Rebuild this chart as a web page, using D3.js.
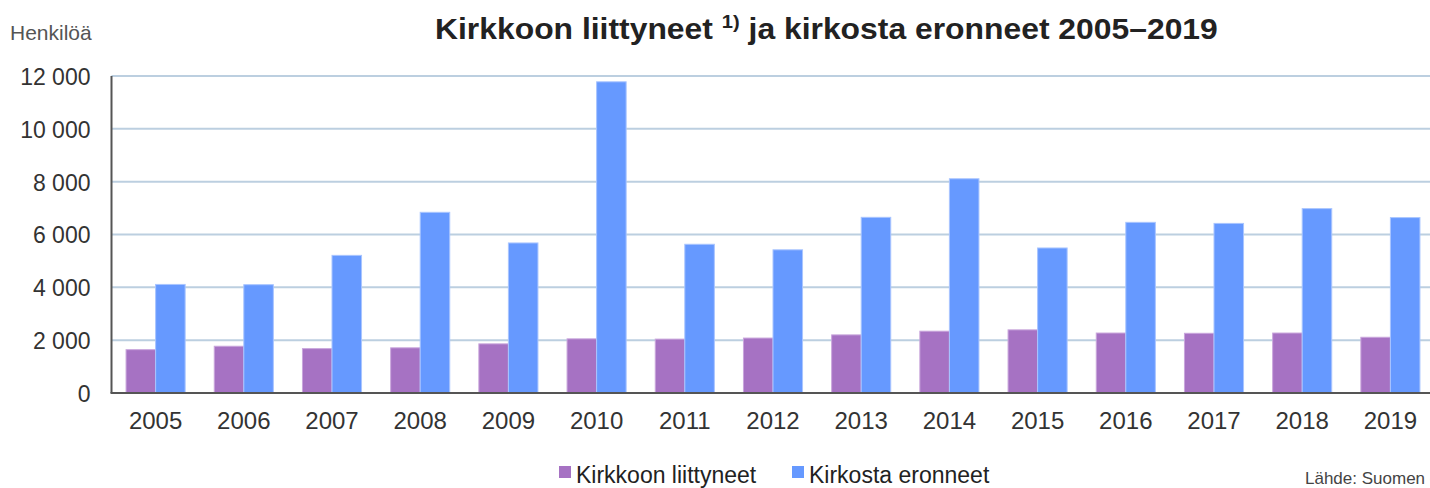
<!DOCTYPE html>
<html>
  <head>
    <meta charset="utf-8">
    <title>Kirkkoon liittyneet ja kirkosta eronneet</title>
    <style>
      body { margin: 0; background: #fff; }
      svg { display: block; font-family: "Liberation Sans", Arial, sans-serif; }
    </style>
  </head>
  <body>
    <svg width="1430" height="488"></svg>
    <script src="https://cdn.jsdelivr.net/npm/d3@7"></script>
    <script>
      // data
      var years = ["2005","2006","2007","2008","2009","2010","2011","2012","2013","2014","2015","2016","2017","2018","2019"];
      var liittyneet = [1640, 1770, 1680, 1710, 1860, 2050, 2040, 2080, 2200, 2340, 2390, 2270, 2260, 2270, 2110];
      var eronneet = [4110, 4100, 5210, 6840, 5680, 11780, 5630, 5420, 6650, 8110, 5490, 6460, 6420, 6980, 6640];
      var seriesNames = ["Kirkkoon liittyneet", "Kirkosta eronneet"];
      var seriesColors = ["#a672c3", "#6699ff"];
      var yTicks = [0, 2000, 4000, 6000, 8000, 10000, 12000];

      var svg = d3.select("svg");
      var pLeft = 111.5, pRight = 1434.5, pTop = 76, pBottom = 393;

      var x = d3.scaleBand()
        .domain(years)
        .range([pLeft, pRight])
        .paddingInner(0.33)
        .paddingOuter(0.165);
      var xs = d3.scaleBand()
        .domain([0, 1])
        .range([0, x.bandwidth()]);
      var y = d3.scaleLinear()
        .domain([0, 12000])
        .range([pBottom, pTop]);

      var fmt = function(d){ return d3.format(",")(d).replace(/,/g, " "); };

      // gridlines
      svg.append("g")
        .selectAll("line")
        .data(yTicks.filter(function(d){ return d > 0; }))
        .enter()
        .append("line")
        .attr("x1", pLeft).attr("x2", pRight)
        .attr("y1", function(d){ return y(d); })
        .attr("y2", function(d){ return y(d); })
        .attr("stroke", "#bccfe0")
        .attr("stroke-width", 2);

      // y axis labels
      var yAxis = svg.append("g")
        .attr("transform", "translate(" + (pLeft - 21) + ",1)")
        .call(d3.axisLeft(y).tickValues(yTicks).tickFormat(fmt).tickSize(0).tickPadding(0));
      yAxis.select(".domain").remove();
      yAxis.selectAll("text")
        .attr("fill", "#333")
        .attr("font-size", 23)
        .attr("font-family", "Liberation Sans, Arial, sans-serif");

      // bars
      var data = [liittyneet, eronneet];
      var groups = svg.append("g")
        .selectAll("g")
        .data(years)
        .enter()
        .append("g")
        .attr("transform", function(d){ return "translate(" + x(d) + ",0)"; });

      groups.selectAll("rect")
        .data(function(d, i){ return [0, 1].map(function(s){ return {s: s, v: data[s][i]}; }); })
        .enter()
        .append("rect")
        .attr("x", function(d){ return xs(d.s); })
        .attr("width", xs.bandwidth())
        .attr("y", function(d){ return y(d.v); })
        .attr("height", function(d){ return pBottom - y(d.v); })
        .attr("fill", function(d){ return seriesColors[d.s]; })
        .attr("stroke", function(d){ return d.s ? "#a9c5ff" : "#c9a6dc"; })
        .attr("stroke-width", 1);

      // axis lines
      svg.append("line")
        .attr("x1", pLeft).attr("x2", pLeft)
        .attr("y1", pTop).attr("y2", pBottom)
        .attr("stroke", "#555").attr("stroke-width", 2);
      svg.append("line")
        .attr("x1", pLeft - 1).attr("x2", pRight)
        .attr("y1", pBottom).attr("y2", pBottom)
        .attr("stroke", "#555").attr("stroke-width", 2);

      // x labels
      var xAxis = svg.append("g")
        .attr("transform", "translate(0," + (pBottom + 19) + ")")
        .call(d3.axisBottom(x).tickSize(0).tickPadding(0));
      xAxis.select(".domain").remove();
      xAxis.selectAll("text")
        .attr("fill", "#333")
        .attr("font-size", 24)
        .attr("font-family", "Liberation Sans, Arial, sans-serif");

      // title
      var titleG = svg.append("g");
      var title = titleG.append("text")
        .attr("x", 0).attr("y", 0)
        .attr("font-size", 30)
        .attr("font-weight", "bold")
        .attr("fill", "#222");
      title.append("tspan").text("Kirkkoon liittyneet ");
      title.append("tspan").attr("font-size", 19).attr("dy", -11).text("1)");
      title.append("tspan").attr("dy", 11).text(" ja kirkosta eronneet 2005–2019");
      var tw = title.node().getComputedTextLength();
      var sx = 783 / tw;
      titleG.attr("transform", "translate(435,39) scale(" + sx + ",1)");

      svg.append("text")
        .attr("x", 10).attr("y", 40)
        .attr("font-size", 21)
        .attr("fill", "#555")
        .text("Henkilöä");

      // legend
      var legX = [559, 792];
      var leg = svg.append("g")
        .selectAll("g")
        .data(seriesNames)
        .enter()
        .append("g")
        .attr("transform", function(d, i){ return "translate(" + legX[i] + ",466)"; });
      leg.append("rect")
        .attr("width", 12).attr("height", 12)
        .attr("fill", function(d, i){ return seriesColors[i]; });
      leg.append("text")
        .attr("x", 17).attr("y", 17)
        .attr("font-size", 23)
        .attr("fill", "#222")
        .text(function(d){ return d; });

      svg.append("text")
        .attr("x", 1305).attr("y", 484)
        .attr("font-size", 17)
        .attr("fill", "#444")
        .text("Lähde: Suomen ev.-lut. kirkko");
    </script>
  </body>
</html>
